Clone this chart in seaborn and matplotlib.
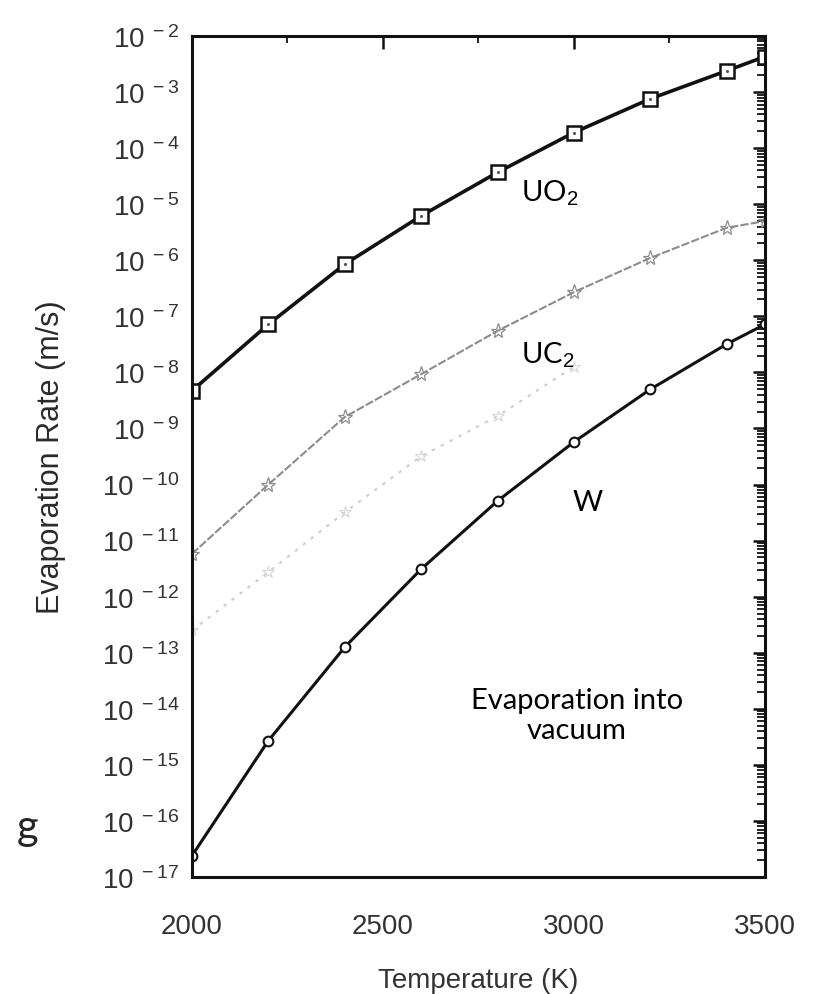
import matplotlib
matplotlib.use("Agg")
import matplotlib.pyplot as plt
import matplotlib.ticker as mticker
import seaborn as sns
import pandas as pd
import numpy as np

# ---- data ----
temperature = [2000, 2200, 2400, 2600, 2800, 3000, 3200, 3400, 3500]
uo2_rate = [4.7e-9, 7.2e-8, 8.5e-7, 6.2e-6, 3.7e-5, 1.9e-4, 7.6e-4, 2.4e-3, 4.3e-3]
uc2_rate = [5.8e-12, 1.0e-10, 1.6e-9, 9.3e-9, 5.5e-8, 2.7e-7, 1.1e-6, 3.8e-6, 5.0e-6]
w_rate = [2.4e-17, 2.7e-15, 1.26e-13, 3.1e-12, 5.1e-11, 5.75e-10, 5.0e-9, 3.2e-8, 7.2e-8]
faint_temperature = [2000, 2200, 2400, 2600, 2800, 3000]
faint_rate = [2.5e-13, 2.75e-12, 3.2e-11, 3.2e-10, 1.66e-9, 1.26e-8]

x_ticks = [2000, 2500, 3000, 3500]
y_exponents = list(range(-17, -1))

sns.set_style("white")
plt.rcParams['font.family'] = ['Liberation Sans', 'DejaVu Sans']
plt.rcParams['mathtext.fontset'] = 'custom'
plt.rcParams['mathtext.rm'] = 'Liberation Sans'
plt.rcParams['mathtext.it'] = 'Liberation Sans:italic'
plt.rcParams['mathtext.bf'] = 'Liberation Sans:bold'

fig = plt.figure(figsize=(8.25, 9.95), dpi=100)
ax = fig.add_axes([0.2327, 0.1176, 0.6945, 0.8452])

label_color = '#333333'

df_main = pd.DataFrame({'T': temperature, 'UO2': uo2_rate, 'UC2': uc2_rate, 'W': w_rate})
df_faint = pd.DataFrame({'T': faint_temperature, 'rate': faint_rate})

# faint trace
sns.lineplot(data=df_faint, x='T', y='rate', ax=ax, color='#d0d0d0', lw=1.6,
             linestyle=(0, (1.5, 3)), marker='*', markersize=9,
             markerfacecolor='none', markeredgecolor='#d8d8d8', markeredgewidth=0.8)
# UC2
sns.lineplot(data=df_main, x='T', y='UC2', ax=ax, color='#8c8c8c', lw=1.5,
             linestyle=(0, (4, 1)), marker='*', markersize=11,
             markerfacecolor='none', markeredgecolor='#8c8c8c', markeredgewidth=0.9)
# W
sns.lineplot(data=df_main, x='T', y='W', ax=ax, color='#111111', lw=2.2,
             marker='o', markersize=7, markerfacecolor='white',
             markeredgecolor='#111111', markeredgewidth=1.5)
# UO2
sns.lineplot(data=df_main, x='T', y='UO2', ax=ax, color='#111111', lw=2.6,
             marker='s', markersize=10.5, markerfacecolor='white',
             markeredgecolor='#111111', markeredgewidth=1.8)
ax.plot(df_main['T'], df_main['UO2'], ls='none', marker='.', markersize=2.5, color='#555555')

ax.set_yscale('log')
ax.set_xlim(2000, 3500)
ax.set_ylim(1e-17, 1e-2)

ax.set_xticks(x_ticks)
ax.set_xticklabels([str(t) for t in x_ticks])
ax.xaxis.set_minor_locator(mticker.MultipleLocator(250))

ax.yaxis.set_major_locator(mticker.FixedLocator([10.0 ** e for e in y_exponents]))
ax.yaxis.set_major_formatter(mticker.FuncFormatter(lambda v, p: r'$10^{\ %d}$' % int(round(np.log10(v)))))
ax.yaxis.set_minor_locator(mticker.LogLocator(base=10, subs=np.arange(2, 10), numticks=100))
ax.yaxis.set_minor_formatter(mticker.NullFormatter())

ax.tick_params(which='major', direction='in', length=9, width=1.8, top=True, right=True,
               labelsize=20, labelcolor=label_color, color='#111111')
ax.tick_params(axis='y', which='major', pad=9)
ax.tick_params(axis='x', which='major', pad=26)
ax.tick_params(which='minor', direction='in', length=5, width=1.3, top=True, right=True,
               color='#111111')
ax.tick_params(axis='y', which='minor', length=6)

for s in ax.spines.values():
    s.set_linewidth(2.2)
    s.set_color('#111111')

ax.set_xlabel('Temperature (K)', fontsize=20, color=label_color, labelpad=20)
ax.set_ylabel('Evaporation Rate (m/s)', fontsize=22, color='#2a2a2a', labelpad=26)

anno_font = ['Lato', 'DejaVu Sans']
ax.text(0.625, 0.8145, 'UO$_2$', transform=ax.transAxes, fontsize=21, family=anno_font,
        ha='center', va='center', color='black')
ax.text(0.620, 0.622, 'UC$_2$', transform=ax.transAxes, fontsize=21, family=anno_font,
        ha='center', va='center', color='black')
ax.text(0.691, 0.446, 'W', transform=ax.transAxes, fontsize=21, family=anno_font,
        ha='center', va='center', color='black')
ax.text(0.672, 0.193, 'Evaporation into\nvacuum', transform=ax.transAxes, fontsize=21,
        family=anno_font, ha='center', va='center', color='black', linespacing=1.2)

fig.text(28 / 825, 1 - 828 / 995, 'g', fontsize=30, family=anno_font, ha='center', va='center')

fig.savefig('out.png', dpi=100)
